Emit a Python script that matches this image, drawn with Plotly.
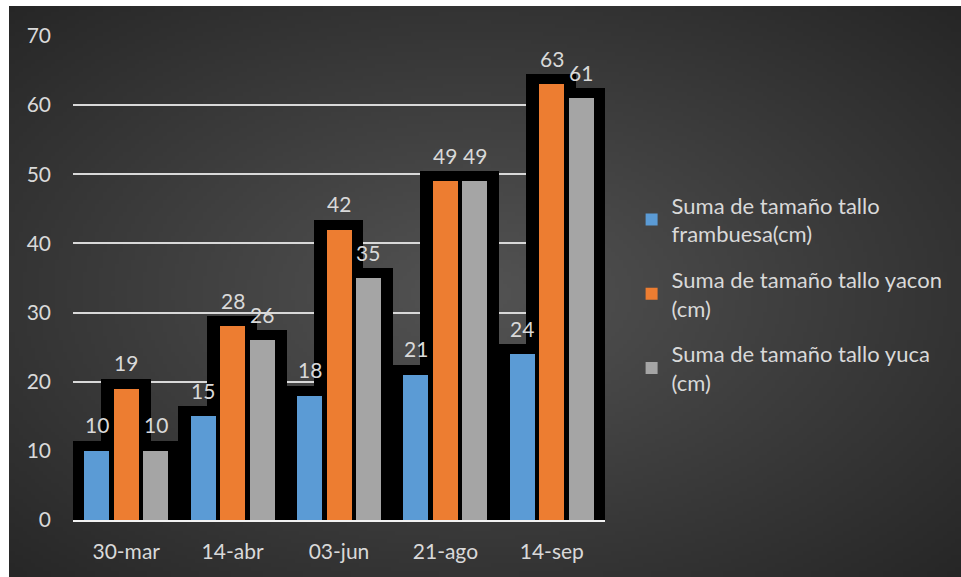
import base64, zlib, struct, math
import plotly.graph_objects as go

# ---------------- data ----------------
fechas = ["30-mar", "14-abr", "03-jun", "21-ago", "14-sep"]
frambuesa = [10, 15, 18, 21, 24]
yacon = [19, 28, 42, 49, 63]
yuca = [10, 26, 35, 49, 61]
nombres = [
    "Suma de tamaño tallo<br>frambuesa(cm)",
    "Suma de tamaño tallo yacon<br>(cm)",
    "Suma de tamaño tallo yuca<br>(cm)",
]
y_ticks = [0, 10, 20, 30, 40, 50, 60, 70]

# ---------------- style ----------------
colores = ["#5b9bd5", "#ed7d31", "#a5a5a5"]
TXT = "#d9d9d9"
FONT = "Lato"
W, H = 961, 577
PL, PR, PT, PB = 73, 605, 36, 520          # plot area in pixels
STEP, BW = 0.277, 0.235                    # bar step / width (category units)
SW, SL = 0.291, 19                         # shadow core width / outline px
CAT_PX = (PR - PL) / len(fechas)           # pixels per category


def gradient_png(w, h):
    """radial dark gradient background, pure-python PNG"""
    c0, c1 = 0x53, 0x26
    cx, cy = w * 0.49, h * 0.5
    rows = []
    for j in range(h):
        row = bytearray([0])
        for i in range(w):
            d = math.hypot((i - cx) / (w / 2), (j - cy) / (h / 2)) / math.sqrt(2)
            d = min(d, 1.0)
            row.append(int(round(c0 + (c1 - c0) * d)))
        rows.append(bytes(row))
    raw = b"".join(rows)

    def chunk(t, data):
        c = struct.pack(">I", len(data)) + t + data
        return c + struct.pack(">I", zlib.crc32(t + data) & 0xFFFFFFFF)

    png = b"\x89PNG\r\n\x1a\n"
    png += chunk(b"IHDR", struct.pack(">IIBBBBB", w, h, 8, 0, 0, 0, 0))
    png += chunk(b"IDAT", zlib.compress(raw, 9))
    png += chunk(b"IEND", b"")
    return "data:image/png;base64," + base64.b64encode(png).decode()


fig = go.Figure()
series = [frambuesa, yacon, yuca]

# black "shadow" bars
for k, vals in enumerate(series):
    c = (k - 1) * STEP
    fig.add_trace(go.Bar(
        x=fechas, y=vals, offset=c - SW / 2, width=SW,
        marker=dict(color="black", line=dict(color="black", width=SL)),
        showlegend=False, hoverinfo="skip",
    ))

# coloured bars
for k, vals in enumerate(series):
    c = (k - 1) * STEP
    fig.add_trace(go.Bar(
        x=fechas, y=vals, offset=c - BW / 2, width=BW, name=nombres[k],
        legendgroup=str(k),
        marker=dict(color=colores[k], line=dict(width=0)),
    ))

# data labels above the shadows
for k, vals in enumerate(series):
    for f, v in zip(fechas, vals):
        fig.add_annotation(
            x=f, y=v, xref="x", yref="y", text=str(v), showarrow=False,
            xanchor="center", yanchor="bottom",
            xshift=(k - 1) * STEP * CAT_PX, yshift=SL / 2 + 2,
            font=dict(family=FONT, size=21, color=TXT),
        )

pw, ph = PR - PL, PB - PT
img_x0, img_y0 = 9, 6
fig.add_layout_image(dict(
    source=gradient_png(238, 143), xref="paper", yref="paper",
    x=(img_x0 - PL) / pw, y=(PB - img_y0) / ph,
    sizex=(W - img_x0) / pw, sizey=(H - img_y0) / ph,
    xanchor="left", yanchor="top", sizing="stretch", layer="below",
))

fig.update_layout(
    width=W, height=H,
    margin=dict(l=PL, r=W - PR, t=PT, b=H - PB, pad=0),
    paper_bgcolor="white", plot_bgcolor="rgba(0,0,0,0)",
    barmode="overlay", bargap=0,
    font=dict(family=FONT, color=TXT),
    showlegend=True,
    legend=dict(
        x=1.05, xanchor="left", y=0.467, yanchor="middle",
        font=dict(family=FONT, size=22, color=TXT),
        bgcolor="rgba(0,0,0,0)", traceorder="grouped", tracegroupgap=14,
        itemsizing="constant",
    ),
    xaxis=dict(
        type="category", range=[-0.5, 4.5], showgrid=False,
        showline=True, linecolor="#f2f2f2", linewidth=2,
        ticks="", tickfont=dict(family=FONT, size=21, color=TXT),
        ticklabelstandoff=12, fixedrange=True,
    ),
    yaxis=dict(
        range=[0, 70], tickvals=y_ticks, showgrid=True,
        gridcolor="#d9d9d9", gridwidth=1.5, zeroline=False,
        showline=False, ticks="",
        tickfont=dict(family=FONT, size=21, color=TXT),
        ticklabelstandoff=21, fixedrange=True,
    ),
)

fig.write_html("out.html")
